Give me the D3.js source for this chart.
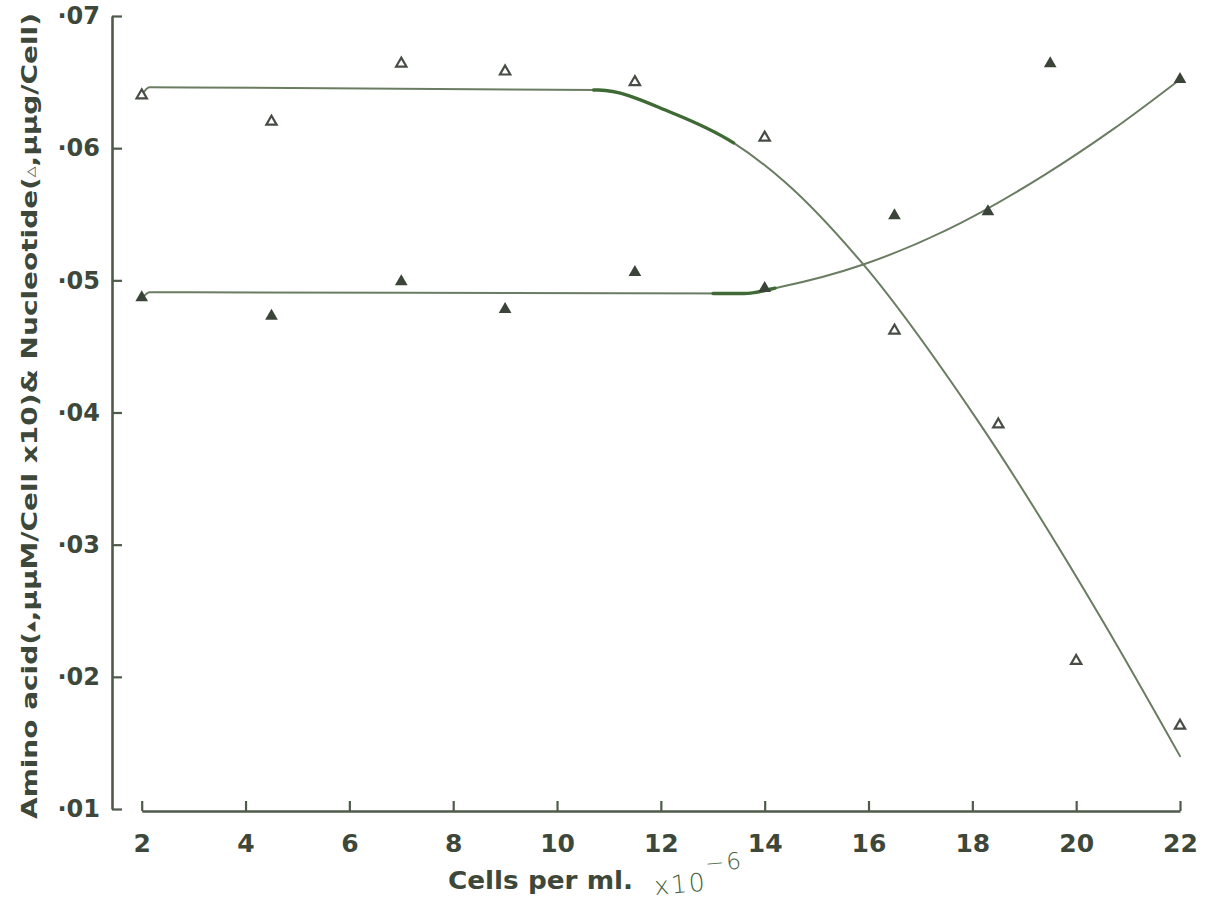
<!DOCTYPE html>
<html>
<head>
<meta charset="utf-8">
<script src="https://cdn.jsdelivr.net/npm/d3@7"></script>
<style>
  body { margin: 0; background: #ffffff; }
  svg { display: block; }
</style>
</head>
<body>
<svg id="chart" width="1217" height="906"></svg>
<script>
// Axis ticks
const xTicks = [2, 4, 6, 8, 10, 12, 14, 16, 18, 20, 22];
const yTicks = [0.01, 0.02, 0.03, 0.04, 0.05, 0.06, 0.07];

// Nucleotide (open triangles), µµg / cell
const nucleotideX = [2, 4.5, 7, 9, 11.5, 14, 16.5, 18.5, 20, 22];
const nucleotideY = [0.0640, 0.0620, 0.0664, 0.0658, 0.0650, 0.0608, 0.0462, 0.0391, 0.0212, 0.0163];

// Amino acid (filled triangles), µµM / cell x10
const aminoX = [2, 4.5, 7, 9, 11.5, 14, 16.5, 18.3, 19.5, 22];
const aminoY = [0.0487, 0.0473, 0.0499, 0.0478, 0.0506, 0.0494, 0.0549, 0.0552, 0.0664, 0.0652];

// Hand-fitted trend curves
const nucleotideCurveX = [2, 2.15, 10.8, 12.2, 13.4, 14.4, 15.9, 18.1, 20.5, 22];
const nucleotideCurveY = [0.0640, 0.0646, 0.0644, 0.0627, 0.0604, 0.0574, 0.0512, 0.0394, 0.0243, 0.0140];
const aminoCurveX = [2, 2.15, 13.6, 14.3, 15.9, 17.5, 19.4, 20.7, 22];
const aminoCurveY = [0.0486, 0.0491, 0.0490, 0.0495, 0.0512, 0.0538, 0.0580, 0.0614, 0.0652];

// Stretches of each curve inked more heavily
const nucleotideHeavy = [10.7, 13.4];
const aminoHeavy = [13.0, 14.2];

const svg = d3.select("#chart");

const x = d3.scaleLinear().domain([2, 22]).range([141.7, 1180]);
const y = d3.scaleLinear().domain([0.01, 0.07]).range([809, 16]);

const axisColor = "#4e5a4a";
const textColor = "#3d473a";
const curveColor = "#6a7d62";
const heavyColor = "#3f6a36";
const font = "'DejaVu Sans', sans-serif";

// Y axis: ticks point inward, labels written as "·07"
const yAxis = d3.axisLeft(y)
  .tickValues(yTicks)
  .tickSizeInner(-10)
  .tickSizeOuter(0)
  .tickPadding(12)
  .tickFormat(d => "\u00B7" + d3.format(".2f")(d).slice(2));

const gy = svg.append("g").attr("transform", "translate(112,0)").call(yAxis);
gy.select(".domain").attr("stroke", axisColor).attr("stroke-width", 2.6);
gy.selectAll(".tick line").attr("stroke", axisColor).attr("stroke-width", 2.2);
gy.selectAll(".tick text")
  .style("font-family", font)
  .style("font-weight", "bold")
  .style("font-size", "24px")
  .style("fill", textColor);

// X axis: ticks point upward
const xAxis = d3.axisBottom(x)
  .tickValues(xTicks)
  .tickSizeInner(-10)
  .tickSizeOuter(0)
  .tickPadding(23)
  .tickFormat(d3.format("d"));

const gx = svg.append("g").attr("transform", "translate(0,811)").call(xAxis);
gx.select(".domain").attr("stroke", axisColor).attr("stroke-width", 2.6);
gx.selectAll(".tick line").attr("stroke", axisColor).attr("stroke-width", 2.2);
gx.selectAll(".tick text")
  .style("font-family", font)
  .style("font-weight", "bold")
  .style("font-size", "25px")
  .style("fill", textColor);

// Curves (monotone cubic keeps the plateaus flat)
const line = d3.line()
  .x(d => x(d[0]))
  .y(d => y(d[1]))
  .curve(d3.curveMonotoneX);

function drawCurve(xs, ys, heavy) {
  const pts = xs.map((v, i) => [v, ys[i]]);
  const path = svg.append("path")
    .datum(pts)
    .attr("d", line)
    .attr("fill", "none")
    .attr("stroke", curveColor)
    .attr("stroke-width", 2)
    .attr("stroke-linecap", "round");

  // heavier overlay along part of the same path
  const node = path.node();
  const L = node.getTotalLength();
  const px0 = x(heavy[0]), px1 = x(heavy[1]);
  let a = null, b = 0;
  for (let l = 0; l <= L; l += 0.5) {
    const p = node.getPointAtLength(l);
    if (a === null && p.x >= px0) a = l;
    if (p.x <= px1) b = l;
  }
  svg.append("path")
    .datum(pts)
    .attr("d", line)
    .attr("fill", "none")
    .attr("stroke", heavyColor)
    .attr("stroke-width", 3.4)
    .attr("stroke-linecap", "round")
    .attr("stroke-dasharray", `0 ${a} ${b - a} ${L + 10}`);
}

drawCurve(nucleotideCurveX, nucleotideCurveY, nucleotideHeavy);
drawCurve(aminoCurveX, aminoCurveY, aminoHeavy);

// Markers
const triOpen = d3.symbol().type(d3.symbolTriangle).size(46);
const triFilled = d3.symbol().type(d3.symbolTriangle).size(70);

svg.append("g").selectAll("path")
  .data(nucleotideX.map((v, i) => [v, nucleotideY[i]]))
  .join("path")
  .attr("d", triOpen)
  .attr("transform", d => `translate(${x(d[0])},${y(d[1])})`)
  .attr("fill", "#ffffff")
  .attr("stroke", "#474d44")
  .attr("stroke-width", 2.2);

svg.append("g").selectAll("path")
  .data(aminoX.map((v, i) => [v, aminoY[i]]))
  .join("path")
  .attr("d", triFilled)
  .attr("transform", d => `translate(${x(d[0])},${y(d[1])})`)
  .attr("fill", "#3b4439");

// Axis titles
const yTitle = svg.append("text")
  .attr("transform", "translate(37,416) rotate(-90)")
  .attr("text-anchor", "middle")
  .attr("textLength", 806)
  .attr("lengthAdjust", "spacingAndGlyphs")
  .style("font-family", font)
  .style("font-weight", "bold")
  .style("font-size", "22px")
  .style("fill", textColor);
yTitle.append("tspan").text("Amino acid(");
yTitle.append("tspan").style("font-size", "11px").attr("dy", -3).text("\u25B2");
yTitle.append("tspan").attr("dy", 3).text(",\u03BC\u03BCM/Cell x10)& Nucleotide(");
yTitle.append("tspan").style("font-size", "11px").attr("dy", -3).text("\u25B3");
yTitle.append("tspan").attr("dy", 3).text(",\u03BC\u03BCg/Cell)");

svg.append("text")
  .attr("x", 448)
  .attr("y", 889)
  .attr("textLength", 185)
  .attr("lengthAdjust", "spacingAndGlyphs")
  .style("font-family", font)
  .style("font-weight", "bold")
  .style("font-size", "24px")
  .style("fill", textColor)
  .text("Cells  per ml.");

// handwritten multiplier
const hand = svg.append("text")
  .attr("transform", "translate(655,895) rotate(-5)")
  .style("font-family", font)
  .style("font-weight", "300")
  .style("font-size", "25px")
  .style("fill", "#44603c")
  .style("letter-spacing", "2px");
hand.append("tspan").text("x10");
hand.append("tspan").attr("dy", -19).style("font-size", "23px").text("\u2212" + "6");
</script>
</body>
</html>
